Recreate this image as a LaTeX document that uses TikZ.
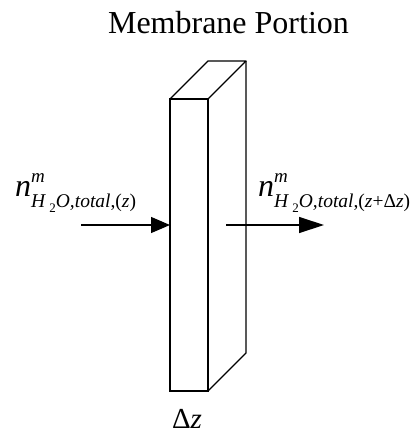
\documentclass[tikz,border=0pt]{standalone}
\usepackage{amsmath,amssymb}
\usepackage{fontspec}
\setmainfont{Liberation Serif}
\usetikzlibrary{positioning,arrows.meta}
\definecolor{lineC}{HTML}{000000}
\newcommand{\fluxlabel}[1]{\textit{n}\rlap{\raisebox{14pt}{\fontsize{19}{20}\selectfont\textit{m}}}%
  \raisebox{-11pt}{\fontsize{19.5}{22}\selectfont\textit{H}\,\raisebox{-5pt}{\fontsize{13}{14}\selectfont 2}\textit{O,total},(#1)}}

\begin{document}
\begin{tikzpicture}[
  x=1pt, y=-1pt,
  every node/.style={text=lineC, inner sep=0pt},
  caption/.style={font=\fontsize{32}{36}\selectfont, anchor=base},
  symb/.style={font=\fontsize{32}{36}\selectfont, anchor=base west},
  face/.style={draw=lineC, line width=1.6pt, minimum width=38pt, minimum height=292pt, outer sep=0pt},
  edge/.style={draw=lineC, line width=1.3pt, line join=round},
  flux/.style={-{Triangle[length=#1,width=16pt]}, draw=lineC, line width=1.3pt},
]
\useasboundingbox (0,0) rectangle (411,432);

% ── Membrane slab ──
\node[face] (front) at (189,245) {};
\draw[edge] (front.north west) -- ++(38,-38) coordinate (backL) -- ++(38,0) coordinate (backR)
  -- (front.north east);
\draw[edge] (backR) -- ++(0,292) coordinate (backB) -- (front.south east);

% ── Labels ──
\node[caption] (title) at (228.5,33) {Membrane Portion};
\node[caption, font=\fontsize{29}{32}\selectfont] (dz) at (187,428) {Δ\textit{z}};

% ── Fluxes ──
\coordinate (inS) at (81,225);
\coordinate (outS) at (226,225);
\coordinate (outE) at (324,225);
\draw[flux=19pt] (inS) -- (inS -| front.west);
\draw[flux=25pt] (outS) -- (outE);

\node[symb] (nin) at (15,196) {\fluxlabel{\textit{z}}};
\node[symb] (nout) at (258,196) {\fluxlabel{\textit{z}+Δ\textit{z}}};

\end{tikzpicture}
\end{document}
